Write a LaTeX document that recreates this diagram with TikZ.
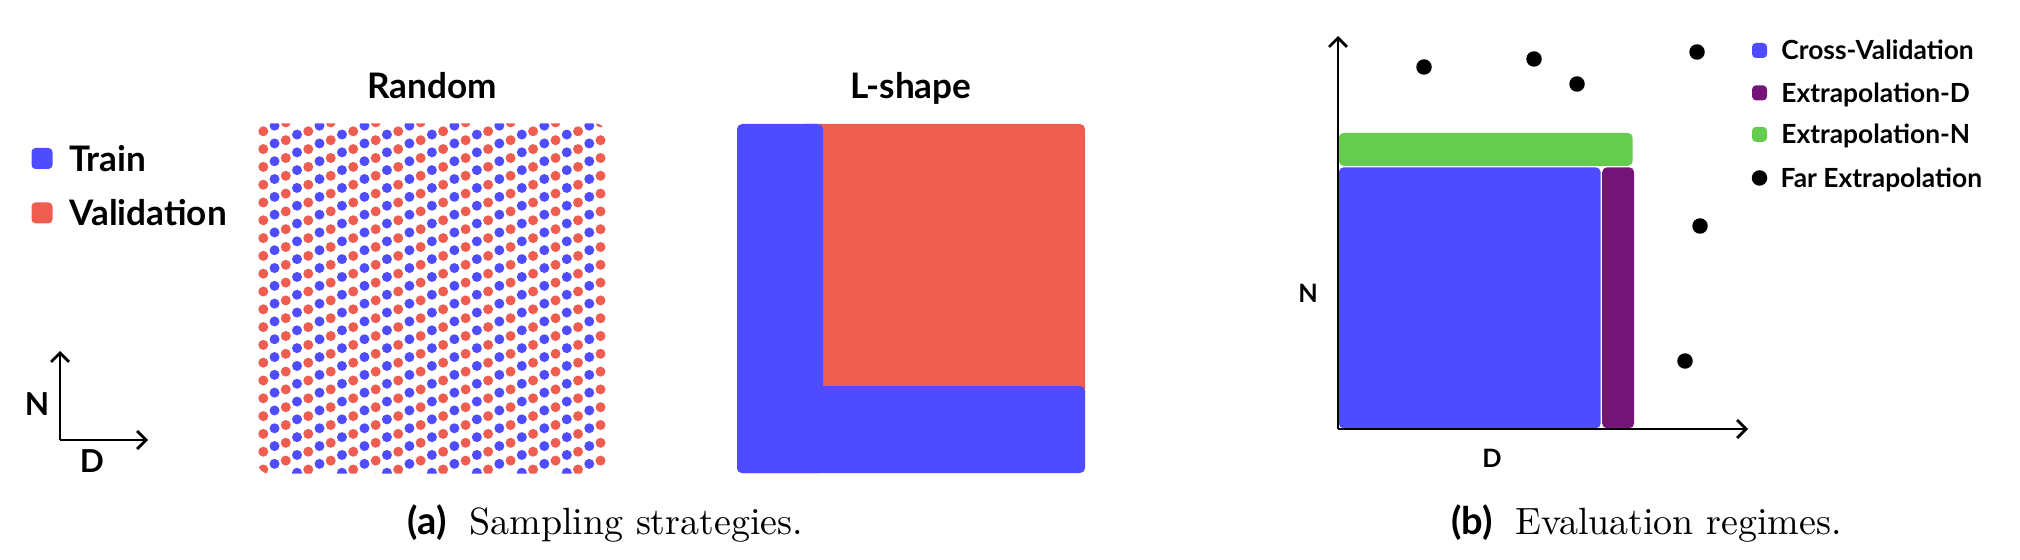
\documentclass[tikz,border=0pt]{standalone}
\usepackage{fontspec}
\newfontfamily\lato{Lato}
\usetikzlibrary{positioning,arrows.meta}

\definecolor{trainblue}{RGB}{79,75,255}
\definecolor{valred}{RGB}{238,93,80}
\definecolor{extgreen}{RGB}{102,204,79}
\definecolor{extpurple}{RGB}{116,20,121}

\begin{document}
\begin{tikzpicture}[x=0.1mm,y=-0.1mm,
    region/.style={fill,inner sep=0pt,rounded corners=0.5mm},
    swatch/.style={fill,inner sep=0pt,minimum size=#1,rounded corners=0.4mm},
    bigtext/.style={font=\lato\bfseries\fontsize{10}{12}\selectfont,inner sep=0pt,text height=7.2pt,text depth=0pt},
    smalltext/.style={font=\lato\bfseries\fontsize{7.5}{9}\selectfont,inner sep=0pt,text height=5.4pt,text depth=0pt},
    axislabel/.style={font=\lato\bfseries\fontsize{#1}{12}\selectfont,inner sep=0pt},
    axis/.style={line width=0.27mm,-{Straight Barb[length=0.9mm,width=1.8mm]}},
    farpt/.style={circle,fill=black,inner sep=0pt,minimum size=1.55mm},
    caption/.style={font=\fontsize{10.8}{13}\selectfont,anchor=base,inner sep=0pt}]
  \useasboundingbox (0,0) rectangle (2020,560);

  % (a) legend
  \node[swatch=2.1mm,fill=trainblue] (train_sw) at (42,158.5) {};
  \node[bigtext,right=1.55mm of train_sw] (train) {Train};
  \node[swatch=2.1mm,fill=valred,below=3.2mm of train_sw] (val_sw) {};
  \node[bigtext,right=1.55mm of val_sw] (val) {Validation};

  % (a) axes
  \coordinate (o_a) at (60,440);
  \coordinate (n_a) at (60,351);
  \coordinate (d_a) at (148,440);
  \draw[axis] (o_a) -- (n_a);
  \draw[axis] (o_a) -- (d_a);
  \node[axislabel=9] at (37,404) {N};
  \node[axislabel=9] at (92,461) {D};

  % random split
  \node[inner sep=0pt,minimum width=34.8mm,minimum height=34.9mm] (random) at (432,298.5) {};
  \node[bigtext,above=2.4mm of random] {Random};
  \begin{scope}
    \clip[rounded corners=1.2mm] (random.south west) rectangle (random.north east);
    \foreach \i in {0,...,30}{
      \pgfmathsetmacro\dotx{263.3+11.24*\i}
      \pgfmathsetmacro\doty{131.3-4.45*\i-1.2*mod(\i,2)}
      \ifodd\i\def\dotcol{trainblue}\else\def\dotcol{valred}\fi
      \foreach \j in {0,...,27}
        \fill[\dotcol] (\dotx,\doty+17.8*\j) circle[radius=0.5mm];
    }
  \end{scope}

  % L-shape split
  \node[inner sep=0pt,minimum width=34.8mm,minimum height=34.9mm] (lshape) at (911,298.5) {};
  \node[bigtext,above=2.4mm of lshape] {L-shape};
  \node[region,fill=valred,anchor=north east,minimum width=28.5mm,minimum height=27.6mm] (l_val) at (lshape.north east) {};
  \node[region,fill=trainblue,anchor=north west,minimum width=8.6mm,minimum height=34.9mm] (l_col) at (lshape.north west) {};
  \node[region,fill=trainblue,anchor=south west,minimum width=34.8mm,minimum height=8.7mm] (l_bar) at (lshape.south west) {};

  \node[caption] (cap_a) at (605.5,534) {{\lato\bfseries(a)}\hspace{0.6em}Sampling strategies.};

  % (b) regimes
  \coordinate (o_b) at (1338,429);
  \node[region,fill=trainblue,anchor=south west,minimum width=26.2mm,minimum height=26.1mm] (cv) at (o_b) {};
  \node[region,fill=extpurple,anchor=south west,minimum width=3.2mm,minimum height=26.1mm] (ext_d) at (cv.south east) {};
  \node[region,fill=extgreen,anchor=south west,minimum width=29.4mm,minimum height=3.3mm] (ext_n) at (cv.north west) {};
  \coordinate (n_b) at (1338,36);
  \coordinate (d_b) at (1748,429);
  \draw[axis] (o_b) -- (n_b);
  \draw[axis] (o_b) -- (d_b);
  \node[axislabel=7.2] at (1308,293) {N};
  \node[axislabel=7.2] at (1492,458) {D};

  \node[farpt] (far1) at (1424,67) {};
  \node[farpt] (far2) at (1534,59) {};
  \node[farpt] (far3) at (1577,84) {};
  \node[farpt] (far4) at (1697,52) {};
  \node[farpt] (far5) at (1700,226) {};
  \node[farpt] (far6) at (1685,361) {};

  % (b) legend
  \node[swatch=1.5mm,fill=trainblue] (cv_sw) at (1759.5,50.5) {};
  \node[smalltext,right=1.3mm of cv_sw] {Cross-Validation};
  \node[swatch=1.5mm,fill=extpurple,below=2.6mm of cv_sw] (ed_sw) {};
  \node[smalltext,right=1.3mm of ed_sw] {Extrapolation-D};
  \node[swatch=1.5mm,fill=extgreen,below=2.5mm of ed_sw] (en_sw) {};
  \node[smalltext,right=1.3mm of en_sw] {Extrapolation-N};
  \node[farpt,below=2.7mm of en_sw] (far_sw) {};
  \node[smalltext,right=1.2mm of far_sw] {Far Extrapolation};

  \node[caption] (cap_b) at (1646.5,534) {{\lato\bfseries(b)}\hspace{0.6em}Evaluation regimes.};
\end{tikzpicture}
\end{document}
